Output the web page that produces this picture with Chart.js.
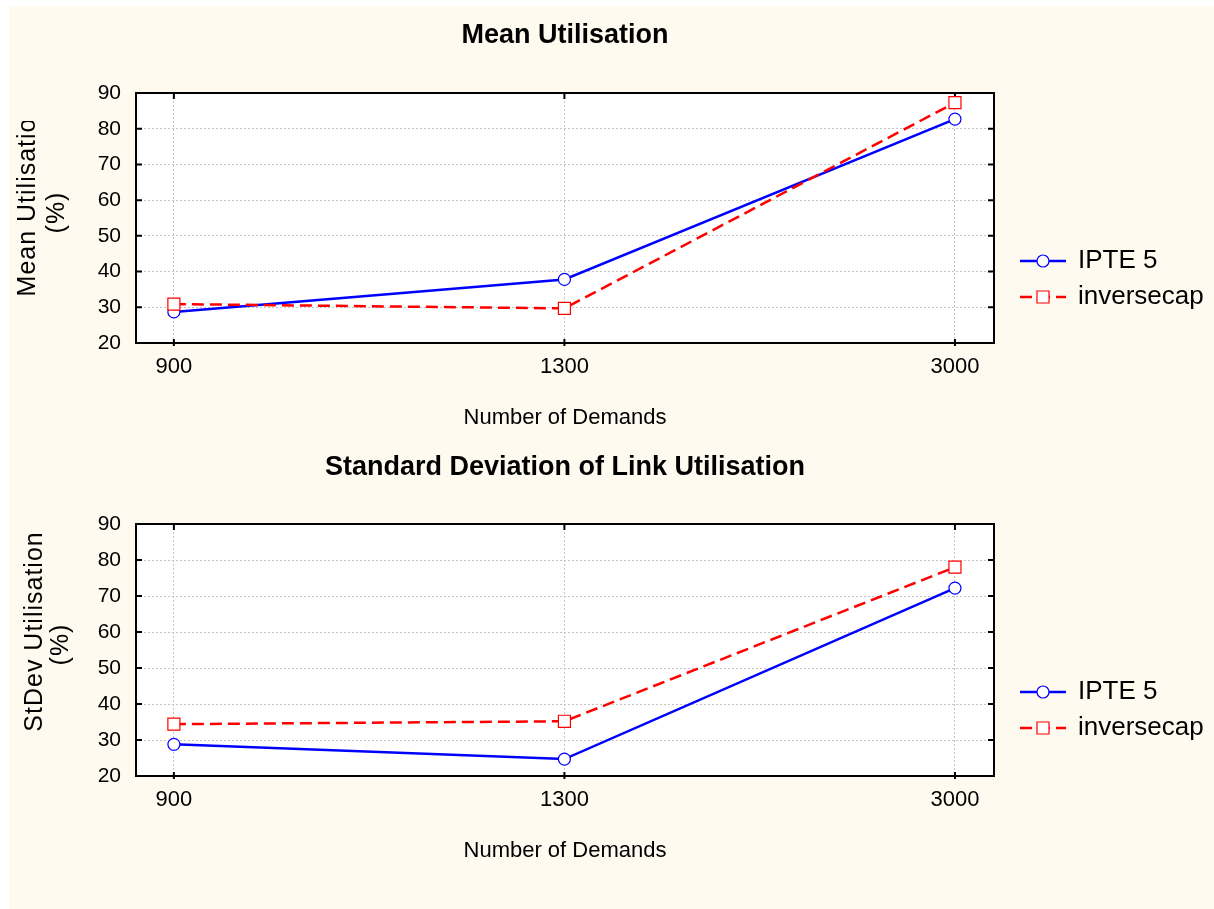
<!DOCTYPE html>
<html>
<head>
<meta charset="utf-8">
<script src="https://cdn.jsdelivr.net/npm/chart.js@4"></script>
<style>
html,body{margin:0;padding:0;background:#fff;overflow:hidden;}
#page{position:absolute;left:0;top:0;width:1214px;height:909px;}
#bg{position:absolute;left:9px;top:6px;right:0;bottom:0;background:#fffaf0;}
.box{position:absolute;left:0;width:1214px;}
#box1{top:0;height:440px;}
#box2{top:440px;height:469px;}
</style>
</head>
<body>
<div id="page">
  <div id="bg"></div>
  <div class="box" id="box1"><canvas id="meanChart"></canvas></div>
  <div class="box" id="box2"><canvas id="sdChart"></canvas></div>
</div>
<script>
// values
const demands = ['900', '1300', '3000'];
const seriesNames = ['IPTE 5', 'inversecap'];
const meanIpte = [28.7, 37.8, 82.7];
const meanInverse = [30.9, 29.7, 87.3];
const sdIpte = [28.8, 24.7, 72.2];
const sdInverse = [34.4, 35.2, 78.0];

Chart.defaults.font.family = '"Liberation Sans", Arial, sans-serif';
Chart.defaults.color = '#000';

// white plot area + black frame with inward ticks
const framePlugin = {
  id: 'frame',
  beforeDraw(chart){
    const {ctx, chartArea:a} = chart;
    ctx.save();
    ctx.fillStyle = '#fff';
    ctx.fillRect(a.left, a.top, a.right - a.left, a.bottom - a.top);
    ctx.restore();
  },
  beforeDatasetsDraw(chart){
    const {ctx, chartArea:a, scales:{x, y}} = chart;
    ctx.save();
    ctx.strokeStyle = '#000';
    ctx.lineWidth = 2;
    ctx.strokeRect(a.left, a.top, a.right - a.left, a.bottom - a.top);
    ctx.beginPath();
    y.ticks.forEach(t=>{
      const py = y.getPixelForValue(t.value);
      ctx.moveTo(a.left, py); ctx.lineTo(a.left + 6, py);
      ctx.moveTo(a.right, py); ctx.lineTo(a.right - 6, py);
    });
    x.ticks.forEach(t=>{
      const px = x.getPixelForValue(t.value);
      ctx.moveTo(px, a.top); ctx.lineTo(px, a.top + 6);
      ctx.moveTo(px, a.bottom + 3); ctx.lineTo(px, a.bottom - 4);
    });
    ctx.stroke();
    ctx.restore();
  }
};

// legend on the right: line - marker - line, then label
const sideLegend = {
  id: 'sideLegend',
  afterDraw(chart){
    const o = chart.options.plugins.sideLegend;
    const {ctx, chartArea:a} = chart;
    chart.data.datasets.forEach((ds, i)=>{
      const yy = a.top + o.rows[i];
      ctx.save();
      ctx.strokeStyle = ds.borderColor;
      ctx.lineWidth = ds.borderWidth;
      ctx.setLineDash(ds.borderDash || []);
      ctx.beginPath();
      ctx.moveTo(o.x, yy); ctx.lineTo(o.x + 46, yy);
      ctx.stroke();
      ctx.setLineDash([]);
      ctx.fillStyle = ds.pointBackgroundColor;
      ctx.strokeStyle = ds.pointBorderColor;
      ctx.lineWidth = ds.pointBorderWidth;
      Chart.helpers.drawPoint(ctx, {pointStyle: ds.pointStyle, radius: ds.pointRadius, rotation: 0, borderWidth: ds.pointBorderWidth}, o.x + 23, yy);
      ctx.fillStyle = '#000';
      ctx.font = '26px "Liberation Sans", Arial, sans-serif';
      ctx.textBaseline = 'middle';
      ctx.textAlign = 'left';
      ctx.fillText(ds.label, o.x + 58, yy);
      ctx.restore();
    });
  }
};

// two-line rotated y title (the top one is cut off in the original)
const yTitle = {
  id: 'yTitle',
  afterDraw(chart){
    const o = chart.options.plugins.yTitle;
    const {ctx, chartArea:a} = chart;
    const cy = (a.top + a.bottom) / 2;
    ctx.save();
    if(o.clipTop != null){
      ctx.beginPath();
      ctx.rect(0, o.clipTop, a.left, chart.height - o.clipTop);
      ctx.clip();
    }
    ctx.font = '25px "Liberation Sans", Arial, sans-serif';
    ctx.letterSpacing = '1px';
    ctx.fillStyle = '#000';
    ctx.textAlign = 'center';
    ctx.textBaseline = 'middle';
    o.lines.forEach((t, i)=>{
      ctx.save();
      ctx.translate(o.xs[i], cy + o.shift[i]);
      ctx.rotate(-Math.PI / 2);
      ctx.fillText(t, 0, 0);
      ctx.restore();
    });
    ctx.restore();
  }
};

function buildChart(canvasId, title, ipte, inverse, o){
  const ctx = document.getElementById(canvasId).getContext('2d');
  return new Chart(ctx, {
    type: 'line',
    data: { datasets: [
      { label: seriesNames[0], data: ipte.map((v,i)=>({x:i, y:v})),
        borderColor: '#0000ff', borderWidth: 2.5, fill: false, tension: 0,
        pointStyle: 'circle', pointRadius: 6, pointBackgroundColor: '#fff',
        pointBorderColor: '#0000ff', pointBorderWidth: 1.2, order: 1 },
      { label: seriesNames[1], data: inverse.map((v,i)=>({x:i, y:v})),
        borderColor: '#ff0000', borderWidth: 2.5, borderDash: [12,6], fill: false, tension: 0,
        pointStyle: 'rect', pointRadius: 8.5, pointBackgroundColor: '#fff',
        pointBorderColor: '#ff0000', pointBorderWidth: 1.2, order: 0 }
    ]},
    options: {
      responsive: true, maintainAspectRatio: false, animation: false, events: [],
      layout: { padding: { left: 0, right: 220, top: 0, bottom: o.padBottom } },
      plugins: {
        legend: { display: false },
        tooltip: { enabled: false },
        title: { display: true, text: title, fullSize: false, color: '#000',
          font: { size: 27, weight: 'bold' }, padding: { top: o.titleTop, bottom: o.titleBottom } },
        sideLegend: { x: 1020, rows: [168, 204] },
        yTitle: { lines: o.yLines, xs: o.yXs, shift: [-18.5, -5.5], clipTop: o.clipTop }
      },
      scales: {
        x: {
          type: 'linear', min: -0.097, max: 2.1,
          afterBuildTicks: s=>{ s.ticks = demands.map((d,i)=>({value:i})); },
          afterFit: s=>{ s.height = 97; },
          grid: { color: '#c4c4c4', lineWidth: 1, drawTicks: false },
          border: { display: false, dash: [2,2] },
          ticks: { padding: 11, font: { size: 22 }, color: '#000', callback: v => demands[v] },
          title: { display: true, text: 'Number of Demands', color: '#000', font: { size: 22 }, padding: { top: 0, bottom: 8.8 } }
        },
        y: {
          min: 20, max: 90,
          afterFit: s=>{ s.width = 136; },
          grid: { color: '#c4c4c4', lineWidth: 1, drawTicks: false },
          border: { display: false, dash: [2,2] },
          ticks: { stepSize: 10, padding: 15, font: { size: 21 }, color: '#000' }
        }
      }
    },
    plugins: [framePlugin, sideLegend, yTitle]
  });
}

buildChart('meanChart', 'Mean Utilisation', meanIpte, meanInverse, {
  padBottom: 0, titleTop: 19.8, titleBottom: 40.8,
  yLines: ['Mean Utilisation', '(%)'], yXs: [28.5, 57.5], clipTop: 121
});
buildChart('sdChart', 'Standard Deviation of Link Utilisation', sdIpte, sdInverse, {
  padBottom: 36, titleTop: 11.5, titleBottom: 40.1,
  yLines: ['StDev Utilisation', '(%)'], yXs: [35, 61], clipTop: null
});
</script>
</body>
</html>
